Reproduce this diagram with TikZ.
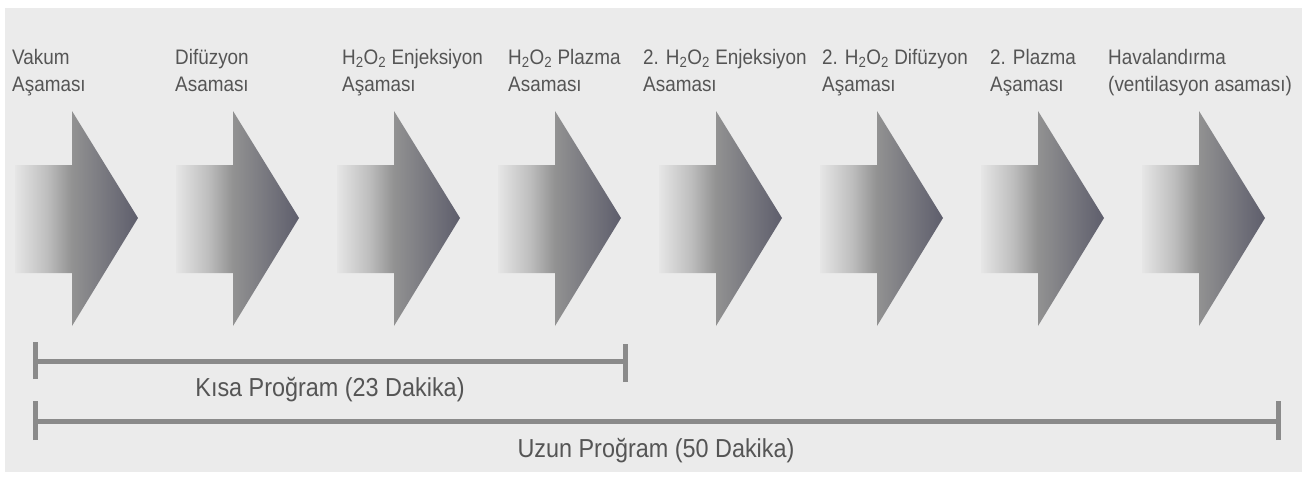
\documentclass[tikz,border=0pt]{standalone}
\usepackage{fontspec}
\setmainfont{Liberation Sans}[FakeStretch=0.9]
\definecolor{bg}{HTML}{EBEBEB}
\definecolor{txt}{HTML}{555555}
\definecolor{barc}{HTML}{8A8A8A}
\definecolor{ca}{HTML}{E6E6E6}
\definecolor{cb}{HTML}{BEBEBE}
\definecolor{cc}{HTML}{929292}
\definecolor{cd}{HTML}{5E5E6C}
\pgfdeclarehorizontalshading{arrowshade}{100bp}{color(0bp)=(ca); color(25bp)=(ca); color(38bp)=(cb); color(48bp)=(cc); color(75bp)=(cd); color(100bp)=(cd)}
\tikzset{
  lbl/.style={anchor=north west, inner sep=0pt, align=left, text=txt, font=\fontsize{21}{27}\selectfont},
  btxt/.style={anchor=base, inner sep=0pt, text=txt, font=\fontsize{26}{30}\selectfont},
  stage/.style={shading=arrowshade, draw=none},
  bar/.style={draw=barc, line width=5pt},
  tick/.style={draw=barc, line width=5pt}
}
\begin{document}
\begin{tikzpicture}[x=1pt,y=-1pt]
\useasboundingbox (0,0) rectangle (1307,477);
\fill[white] (0,0) rectangle (1307,477);
\fill[bg] (5,8) rectangle (1302,472);
% stage arrows
\foreach \i in {0,...,7}{
  \pgfmathsetmacro\T{138+161*\i}
  \path[stage] (\T-123,165) -- (\T-66,165) -- (\T-66,111) -- (\T,218) -- (\T-66,326) -- (\T-66,273) -- (\T-123,273) -- cycle;
}
% labels
\node[lbl] (l1) at (12,49) {Vakum\\Aşaması};
\node[lbl] (l2) at (175,49) {Difüzyon\\Asaması};
\node[lbl] (l3) at (342,49) {H\textsubscript{2}O\textsubscript{2} Enjeksiyon\\Aşaması};
\node[lbl] (l4) at (508,49) {H\textsubscript{2}O\textsubscript{2} Plazma\\Asaması};
\node[lbl] (l5) at (643,49) {2. H\textsubscript{2}O\textsubscript{2} Enjeksiyon\\Asaması};
\node[lbl] (l6) at (822,49) {2. H\textsubscript{2}O\textsubscript{2} Difüzyon\\Aşaması};
\node[lbl] (l7) at (990,49) {2. Plazma\\Aşaması};
\node[lbl] (l8) at (1108,49) {Havalandırma\\(ventilasyon asaması)};
% program bars
\coordinate (ks) at (35,361);
\coordinate (ke) at (625,361);
\coordinate (ls) at (35,421);
\coordinate (le) at (1278,421);
\draw[bar] (ks) -- (ke);
\draw[tick] ([yshift=-18pt]ks) -- ([yshift=19pt]ks);
\draw[tick] ([yshift=-21pt]ke) -- ([yshift=17pt]ke);
\draw[bar] (ls) -- (le);
\draw[tick] ([yshift=-19pt]ls) -- ([yshift=20pt]ls);
\draw[tick] ([yshift=-19pt]le) -- ([yshift=20pt]le);
\node[btxt] (kt) at (330,396) {Kısa Proğram (23 Dakika)};
\node[btxt] (ut) at (656,457) {Uzun Proğram (50 Dakika)};
\end{tikzpicture}
\end{document}
